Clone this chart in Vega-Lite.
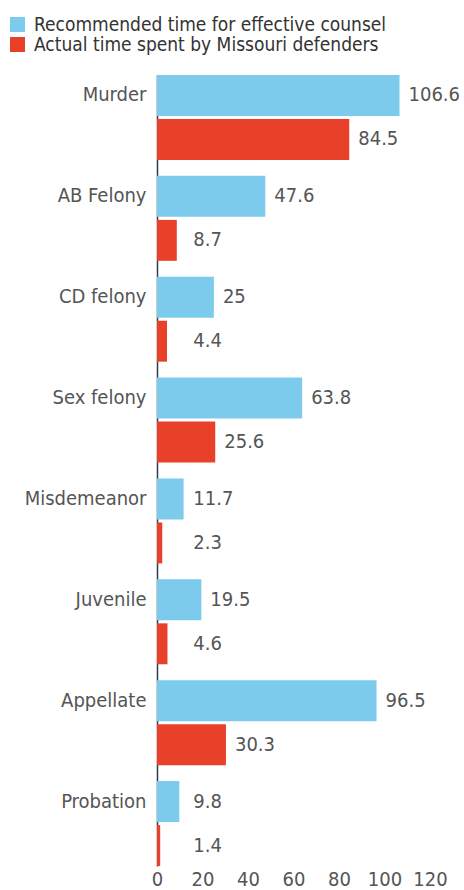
{
  "$schema": "https://vega.github.io/schema/vega-lite/v6.json",
  "autosize": "none",
  "width": 273,
  "height": 791,
  "padding": {"left": 157, "top": 75, "right": 34, "bottom": 24},
  "background": "white",
  "config": {
    "view": {"stroke": null},
    "font": "DejaVu Sans Condensed, sans-serif",
    "axis": {"grid": false, "ticks": false, "labelColor": "#555555", "labelFont": "DejaVu Sans Condensed, sans-serif", "titleFontSize": 0}
  },
  "data": {
    "values": [
      {"category": "Murder", "series": "Recommended time for effective counsel", "value": 106.6},
      {"category": "Murder", "series": "Actual time spent by Missouri defenders", "value": 84.5},
      {"category": "AB Felony", "series": "Recommended time for effective counsel", "value": 47.6},
      {"category": "AB Felony", "series": "Actual time spent by Missouri defenders", "value": 8.7},
      {"category": "CD felony", "series": "Recommended time for effective counsel", "value": 25},
      {"category": "CD felony", "series": "Actual time spent by Missouri defenders", "value": 4.4},
      {"category": "Sex felony", "series": "Recommended time for effective counsel", "value": 63.8},
      {"category": "Sex felony", "series": "Actual time spent by Missouri defenders", "value": 25.6},
      {"category": "Misdemeanor", "series": "Recommended time for effective counsel", "value": 11.7},
      {"category": "Misdemeanor", "series": "Actual time spent by Missouri defenders", "value": 2.3},
      {"category": "Juvenile", "series": "Recommended time for effective counsel", "value": 19.5},
      {"category": "Juvenile", "series": "Actual time spent by Missouri defenders", "value": 4.6},
      {"category": "Appellate", "series": "Recommended time for effective counsel", "value": 96.5},
      {"category": "Appellate", "series": "Actual time spent by Missouri defenders", "value": 30.3},
      {"category": "Probation", "series": "Recommended time for effective counsel", "value": 9.8},
      {"category": "Probation", "series": "Actual time spent by Missouri defenders", "value": 1.4}
    ]
  },
  "encoding": {
    "y": {
      "field": "category", "type": "nominal", "sort": null, "title": null,
      "scale": {"paddingInner": 0.158, "paddingOuter": 0},
      "axis": {"labelFontSize": 20, "labelPadding": 11, "labelOffset": -22, "domainColor": "#2e3e50", "domainWidth": 1.5}
    },
    "yOffset": {
      "field": "series", "type": "nominal",
      "sort": ["Recommended time for effective counsel", "Actual time spent by Missouri defenders"],
      "scale": {"paddingInner": 0.07, "paddingOuter": 0}
    }
  },
  "layer": [
    {
      "mark": {"type": "bar"},
      "encoding": {
        "x": {
          "field": "value", "type": "quantitative", "title": null,
          "scale": {"domain": [0, 120], "nice": false},
          "axis": {"values": [0, 20, 40, 60, 80, 100, 120], "domain": false, "labelFontSize": 20, "labelPadding": 3, "labelFlush": false}
        },
        "color": {
          "field": "series", "type": "nominal", "title": null,
          "scale": {"domain": ["Recommended time for effective counsel", "Actual time spent by Missouri defenders"], "range": ["#7ccbec", "#e9402a"]},
          "legend": {
            "orient": "none", "legendX": -149, "legendY": -60, "direction": "vertical",
            "symbolType": "square", "symbolSize": 225, "symbolStrokeWidth": 0,
            "labelFontSize": 19, "labelColor": "#333333", "labelOffset": 7, "labelLimit": 500,
            "rowPadding": 0, "labelFont": "DejaVu Sans Condensed, sans-serif"
          }
        }
      }
    },
    {
      "transform": [{"calculate": "max(datum.value, 12)", "as": "labelPos"}],
      "mark": {"type": "text", "align": "left", "baseline": "middle", "dx": 9, "fontSize": 20, "color": "#555555", "font": "DejaVu Sans Condensed, sans-serif"},
      "encoding": {
        "x": {"field": "labelPos", "type": "quantitative"},
        "text": {"field": "value", "type": "nominal"}
      }
    }
  ]
}
